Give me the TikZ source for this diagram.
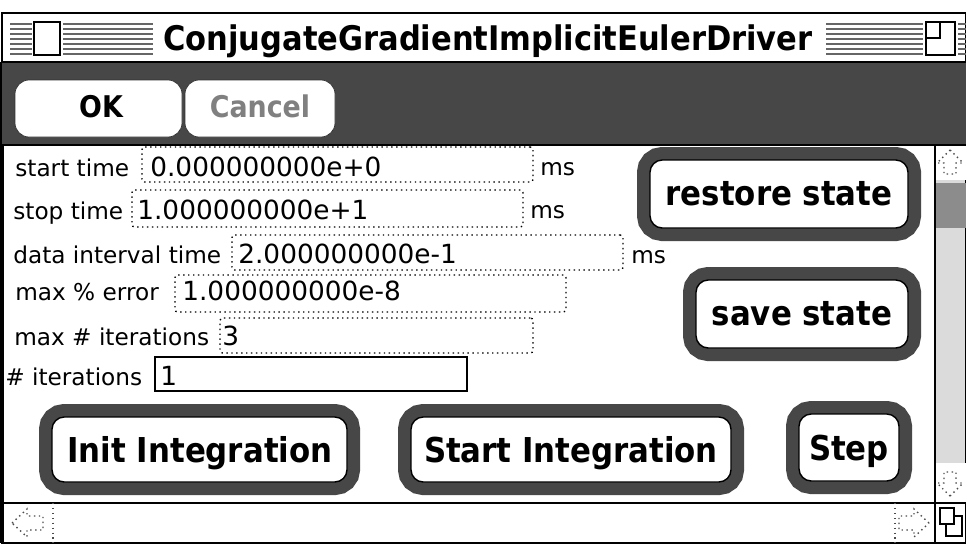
\documentclass[tikz,border=0pt]{standalone}
\usepackage{fontspec}
\setmainfont{DejaVu Sans}
\newfontfamily\chicago{DejaVu Sans Condensed Bold}
\usepackage{xcolor}
\usetikzlibrary{positioning, fit}
\definecolor{dither}{gray}{0.28}
\definecolor{track}{gray}{0.86}

\begin{document}
\begin{tikzpicture}[
  x=0.02cm, y=-0.02cm,
  every node/.style={inner sep=0pt},
  lbl/.style={anchor=base west, font=\fontsize{13.2}{15}\selectfont},
  val/.style={anchor=base west, font=\fontsize{15}{17}\selectfont},
  field/.style={draw, dotted, line width=0.8pt, rounded corners=1.5pt},
  okbtn/.style={draw=black!80, fill=white, rounded corners=8pt},
  chitext/.style={anchor=base, font=\chicago\fontsize{17}{19}\selectfont},
  bigbtn/.style={draw, line width=0.8pt, fill=white, rounded corners=7pt,
                 preaction={draw=dither, line width=0.52cm}},
  btntext/.style={anchor=base, font=\chicago\fontsize{19.5}{21}\selectfont},
  closebox/.style={draw, line width=0.8pt, fill=white},
  arrowshape/.style={draw=black!70, dotted, line width=0.8pt},
]
  \useasboundingbox (0,0) rectangle (966,545);

  % window frame
  \draw[line width=1.4pt, fill=white] (2,13) rectangle (966,543);
  \draw[line width=2.4pt] (2,62) -- (2,543);

  % title bar stripes and boxes
  \foreach \y in {24,29,...,54} {
    \draw[black!60, line width=0.9pt] (10,\y) -- (32,\y) (63,\y) -- (153,\y);
    \draw[black!60, line width=0.9pt] (826,\y) -- (923,\y) (958,\y) -- (966,\y);
  }
  \node[closebox, fit={(34,22) (60,55)}] (close) {};
  \node[closebox, fit={(926,22) (955,55)}] (zoom) {};
  \draw[line width=0.8pt] (926,38) -| (940,22);
  \node[anchor=base, font=\chicago\fontsize{19.3}{21}\selectfont] (title) at (488,50)
    {ConjugateGradientImplicitEulerDriver};

  % button band
  \fill[dither] (2,62) rectangle (966,145);
  \draw[line width=1pt] (2,62) -- (966,62) (2,145) -- (966,145);
  \node[okbtn, fit={(15,80) (182,137)}] (ok) {};
  \node[okbtn, fit={(185,80) (335,137)}] (cancel) {};
  \node[chitext] (oktxt) at (101,117) {OK};
  \node[chitext, text=black!50] (canceltxt) at (260,117) {Cancel};

  % entry fields
  \node[field, fit={(142,147) (533,182)}] (start) {};
  \node[lbl] (startlbl) at (15,176) {start time};
  \node[val] (startval) at (150,176) {0.000000000e+0};
  \node[lbl] (startunit) at (540,175) {ms};

  \node[field, fit={(132,190) (523,227)}] (stop) {};
  \node[lbl] (stoplbl) at (13,219) {stop time};
  \node[val] (stopval) at (137,219) {1.000000000e+1};
  \node[lbl] (stopunit) at (530,218) {ms};

  \node[field, fit={(232,235) (623,270)}] (interval) {};
  \node[lbl] (intervallbl) at (13,263) {data interval time};
  \node[val] (intervalval) at (238,263) {2.000000000e-1};
  \node[lbl] (intervalunit) at (631,263) {ms};

  \node[field, fit={(175,275) (566,312)}] (err) {};
  \node[lbl] (errlbl) at (15,300) {max \% error};
  \node[val] (errval) at (182,300) {1.000000000e-8};

  \node[field, fit={(220,318) (533,353)}] (maxiter) {};
  \node[lbl] (maxiterlbl) at (14,345) {max \# iterations};
  \node[val] (maxiterval) at (222,345) {3};

  \node[draw, line width=1.1pt, fit={(155,357) (467,391)}] (iter) {};
  \node[lbl] (iterlbl) at (5,385) {\# iterations};
  \node[val] (iterval) at (160,385) {1};

  % action buttons
  \node[bigbtn, fit={(650,160) (908,228)}] (restore) {};
  \node[btntext] (restoretxt) at (779,205) {restore state};
  \node[bigbtn, fit={(696,280) (908,348)}] (save) {};
  \node[btntext] (savetxt) at (802,325) {save state};
  \node[bigbtn, fit={(52,417) (347,482)}] (init) {};
  \node[btntext] (inittxt) at (200,462) {Init Integration};
  \node[bigbtn, fit={(411,417) (731,482)}] (run) {};
  \node[btntext] (runtxt) at (571,462) {Start Integration};
  \node[bigbtn, fit={(799,414) (899,481)}] (step) {};
  \node[btntext] (steptxt) at (849,460) {Step};

  % vertical scroll bar
  \draw[line width=1pt, fill=track] (935,145) rectangle (966,503);
  \fill[black!45] (936,183) rectangle (966,228);
  \fill[white] (936,146) rectangle (966,180);
  \fill[white] (936,463) rectangle (966,502);
  \draw[arrowshape] (950,150) -- (963,163) -- (956,163) -- (956,174)
    -- (944,174) -- (944,163) -- (937,163) -- cycle;
  \draw[arrowshape] (950,496) -- (963,483) -- (956,483) -- (956,472)
    -- (944,472) -- (944,483) -- (937,483) -- cycle;

  % horizontal scroll bar
  \draw[line width=1pt] (2,503) -- (966,503);
  \draw[black!70, dotted, line width=0.8pt] (53,503) -- (53,543) (895,503) -- (895,543);
  \draw[arrowshape] (12,523) -- (27,509) -- (27,516) -- (43,516)
    -- (43,530) -- (27,530) -- (27,537) -- cycle;
  \draw[arrowshape] (929,523) -- (914,509) -- (914,516) -- (899,516)
    -- (899,530) -- (914,530) -- (914,537) -- cycle;

  % grow box
  \draw[line width=1.2pt] (935,503) rectangle (966,543);
  \draw[line width=1pt] (946,516) rectangle (962,536);
  \draw[line width=1pt, fill=white] (940,508) rectangle (954,524);
\end{tikzpicture}
\end{document}
